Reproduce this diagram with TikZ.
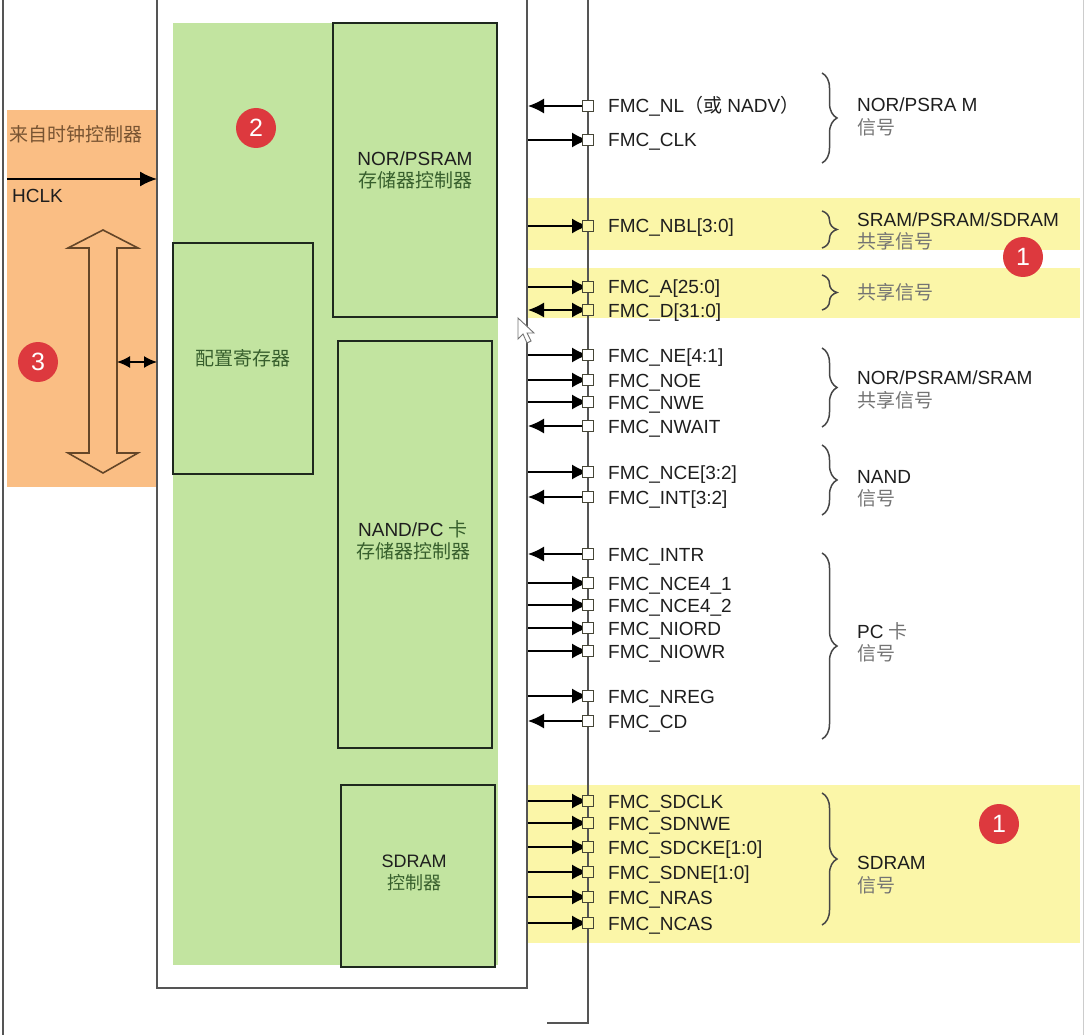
\documentclass[tikz,border=0pt]{standalone}
\usepackage{fontspec}
\setmainfont{Liberation Sans}
\newfontfamily\cjk{Noto Sans CJK SC}
\usetikzlibrary{arrows.meta,decorations.pathreplacing}

\definecolor{orangebg}{RGB}{250,190,132}
\definecolor{greenbg}{RGB}{194,228,160}
\definecolor{bandy}{RGB}{251,246,168}
\definecolor{badgered}{RGB}{221,57,62}
\definecolor{boxline}{RGB}{30,40,30}
\definecolor{busline}{RGB}{85,85,85}
\definecolor{pinline}{RGB}{70,70,55}
\definecolor{labeltext}{RGB}{30,30,30}
\definecolor{cngray}{RGB}{115,115,115}
\definecolor{cngreen}{RGB}{55,95,45}
\definecolor{clocktext}{RGB}{120,84,50}
\definecolor{hollowline}{RGB}{100,70,40}
\definecolor{bracecol}{RGB}{70,70,70}

% one FMC pin: id, y, arrow style, square fill, label
\newcommand{\fmcpin}[5]{%
  \coordinate (s#1) at (528,#2);
  \draw[sig,#3] (s#1) -- (588,#2);
  \node[pin,fill=#4] (p#1) at (588,#2) {};
  \node[siglabel] (l#1) at (608,#2+7) {#5};
}

\begin{document}
\begin{tikzpicture}[x=1pt,y=-1pt,
  font=\fontsize{19}{23}\selectfont,
  box/.style={draw=boxline, line width=1.8pt, fill=greenbg, inner sep=0pt},
  boxtxt/.style={align=center, inner sep=0pt, text=labeltext},
  badge/.style={circle, fill=badgered, text=white, minimum size=40pt,
    inner sep=0pt, font=\fontsize{25}{25}\selectfont},
  pin/.style={draw=pinline, line width=1.3pt, minimum size=11pt, inner sep=0pt},
  sig/.style={line width=1.6pt, black},
  tipshape/.style={},
  pinout/.style={-{Latex[length=16pt,width=15pt]}},
  pinin/.style={{Latex[length=16pt,width=15pt]}-},
  pinboth/.style={{Latex[length=16pt,width=15pt]}-{Latex[length=16pt,width=15pt]}},
  siglabel/.style={anchor=base west, inner sep=0pt, text=labeltext},
  grp/.style={anchor=base west, inner sep=0pt, text=labeltext},
  grpcn/.style={anchor=base west, inner sep=0pt, text=cngray,
    font=\cjk\fontsize{19}{23}\selectfont},
  grpbrace/.style={decorate, decoration={brace, amplitude=15pt, aspect=0.5},
    draw=bracecol, line width=1.5pt}]

\useasboundingbox (0,0) rectangle (1085,1035);

% yellow highlight bands
\fill[bandy] (528,198) rectangle (1080,250);
\fill[bandy] (528,268) rectangle (1080,318);
\fill[bandy] (528,785) rectangle (1080,943);

% frame lines
\draw[busline, line width=1.5pt] (3,0) -- (3,1035);
\draw[black!20, line width=1pt] (1083,0) -- (1083,1035);

% clock / bus side
\fill[orangebg] (7,110) rectangle (157,487);
\node[anchor=west, inner sep=0pt, text=clocktext, font=\cjk\fontsize{19}{23}\selectfont]
  (clksrc) at (9,134) {来自时钟控制器};
\coordinate (hclkin) at (7,179);
\node[anchor=base west, inner sep=0pt, text=labeltext] (hclk) at (12,203) {HCLK};
\draw[hollowline, line width=1.6pt, fill=orangebg]
  (103,230) -- (138,248) -- (117,248) -- (117,453) -- (138,453) -- (103,473)
  -- (68,453) -- (89,453) -- (89,248) -- (68,248) -- cycle;
\coordinate (busside) at (117,362);
\node[badge] (b3) at (38,362) {3};

% FMC block
\node[draw=busline, line width=1.6pt, minimum width=370pt, minimum height=998pt,
  inner sep=0pt] (fmc) at (342,489) {};
\node[fill=greenbg, minimum width=325pt, minimum height=942pt, inner sep=0pt]
  (core) at (335.5,494) {};
\node[box, minimum width=164pt, minimum height=294pt] (nor) at (415,170) {};
\node[boxtxt] at (nor.center) {NOR/PSRAM\\[-1pt]{\cjk\color{cngreen}存储器控制器}};
\node[box, minimum width=140pt, minimum height=231pt] (cfg) at (243,358.5) {};
\node[boxtxt, text=cngreen, font=\cjk\fontsize{19}{23}\selectfont] at (cfg.center) {配置寄存器};
\node[box, minimum width=154pt, minimum height=407pt] (nand) at (415,544.5) {};
\node[boxtxt] at (413,540) {NAND/PC {\cjk\color{cngreen}卡}\\[-1pt]{\cjk\color{cngreen}存储器控制器}};
\node[box, minimum width=154pt, minimum height=182pt] (sdram) at (418,876) {};
\node[boxtxt, font=\fontsize{18}{23}\selectfont] at (414,873) {SDRAM\\[-1pt]{\cjk\color{cngreen}控制器}};
\node[badge] (b2) at (256,128) {2};

% clock and register bus connections
\coordinate (fmcclk) at (157,179);
\coordinate (fmcbus) at (157,362);
\draw[sig, -{Latex[length=17pt,width=15pt]}] (hclkin) -- (fmcclk);
\draw[sig, {Latex[length=13pt,width=12pt]}-{Latex[length=13pt,width=12pt]}] (busside) -- (fmcbus);

% external pin bus
\coordinate (bustop) at (588,-5);
\coordinate (busbot) at (588,1023);
\coordinate (busend) at (547,1023);
\draw[busline, line width=1.6pt] (bustop) -- (busbot) -- (busend);

% FMC pins
\fmcpin{nl}{106}{pinin}{white}{FMC\_NL{\cjk （或} NADV{\cjk ）}}
\fmcpin{clk}{140}{pinout}{white}{FMC\_CLK}
\fmcpin{nbl}{226}{pinout}{bandy}{FMC\_NBL[3:0]}
\fmcpin{a}{287}{pinout}{bandy}{FMC\_A[25:0]}
\fmcpin{d}{310}{pinboth}{bandy}{FMC\_D[31:0]}
\fmcpin{ne}{355}{pinout}{white}{FMC\_NE[4:1]}
\fmcpin{noe}{380}{pinout}{white}{FMC\_NOE}
\fmcpin{nwe}{402}{pinout}{white}{FMC\_NWE}
\fmcpin{nwait}{426}{pinin}{white}{FMC\_NWAIT}
\fmcpin{nce}{472}{pinout}{white}{FMC\_NCE[3:2]}
\fmcpin{int}{497}{pinin}{white}{FMC\_INT[3:2]}
\fmcpin{intr}{554}{pinin}{white}{FMC\_INTR}
\fmcpin{nceA}{583}{pinout}{white}{FMC\_NCE4\_1}
\fmcpin{nceB}{605}{pinout}{white}{FMC\_NCE4\_2}
\fmcpin{niord}{628}{pinout}{white}{FMC\_NIORD}
\fmcpin{niowr}{651}{pinout}{white}{FMC\_NIOWR}
\fmcpin{nreg}{696}{pinout}{white}{FMC\_NREG}
\fmcpin{cd}{721}{pinin}{white}{FMC\_CD}
\fmcpin{sdclk}{801}{pinout}{bandy}{FMC\_SDCLK}
\fmcpin{sdnwe}{823}{pinout}{bandy}{FMC\_SDNWE}
\fmcpin{sdcke}{847}{pinout}{bandy}{FMC\_SDCKE[1:0]}
\fmcpin{sdne}{872}{pinout}{bandy}{FMC\_SDNE[1:0]}
\fmcpin{nras}{897}{pinout}{bandy}{FMC\_NRAS}
\fmcpin{ncas}{923}{pinout}{bandy}{FMC\_NCAS}

% signal group braces
\coordinate (g1t) at (822,73);  \coordinate (g1b) at (822,163);
\coordinate (g2t) at (822,211); \coordinate (g2b) at (822,248);
\coordinate (g3t) at (822,275); \coordinate (g3b) at (822,310);
\coordinate (g4t) at (822,348); \coordinate (g4b) at (822,427);
\coordinate (g5t) at (822,445); \coordinate (g5b) at (822,515);
\coordinate (g6t) at (822,553); \coordinate (g6b) at (822,739);
\coordinate (g7t) at (822,793); \coordinate (g7b) at (822,925);
\foreach \g in {1,...,7} \draw[grpbrace] (g\g t) -- (g\g b);

% group names
\node[grp] (n1) at (857,112) {NOR/PSRA M};
\node[grpcn] (c1) at (857,135) {信号};
\node[grp] (n2) at (857,227) {SRAM/PSRAM/SDRAM};
\node[grpcn] (c2) at (857,249) {共享信号};
\node[grpcn] (c3) at (857,300) {共享信号};
\node[grp] (n4) at (857,384) {NOR/PSRAM/SRAM};
\node[grpcn] (c4) at (857,407) {共享信号};
\node[grp] (n5) at (857,483) {NAND};
\node[grpcn] (c5) at (857,505) {信号};
\node[grp] (n6) at (857,638) {PC {\cjk\color{cngray}卡}};
\node[grpcn] (c6) at (857,660) {信号};
\node[grp] (n7) at (857,869) {SDRAM};
\node[grpcn] (c7) at (857,892) {信号};

\node[badge] (b1a) at (1023,257) {1};
\node[badge] (b1b) at (999,824) {1};

% mouse pointer
\draw[black!55, line width=0.9pt, fill=white]
  (518,318) -- (518,339) -- (523,334) -- (527,343) -- (531,341) -- (527,333)
  -- (534,333) -- cycle;

\end{tikzpicture}
\end{document}
